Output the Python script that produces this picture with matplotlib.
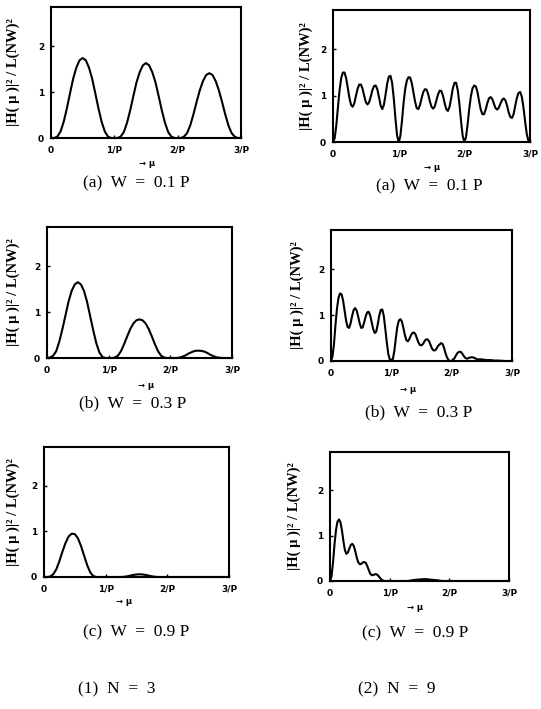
import numpy as np
import matplotlib
matplotlib.use("Agg")
import matplotlib.pyplot as plt

# ---------------- data ----------------
# N = 3 curves, sampled every 0.05/P from 0 to 3/P (61 points)
MU3 = np.round(np.arange(61) * 0.05, 3)
N3_W01 = [0, 0, 0.03, 0.14, 0.35, 0.64, 0.97, 1.29, 1.53, 1.69, 1.74, 1.69, 1.53, 1.29, 0.97, 0.64, 0.35, 0.14, 0.03, 0, 0,
          0, 0.03, 0.13, 0.33, 0.60, 0.91, 1.21, 1.43, 1.58, 1.63, 1.58, 1.43, 1.21, 0.91, 0.60, 0.33, 0.13, 0.03, 0, 0,
          0, 0.03, 0.11, 0.28, 0.52, 0.79, 1.04, 1.24, 1.37, 1.41, 1.37, 1.24, 1.04, 0.79, 0.52, 0.28, 0.11, 0.03, 0, 0]
N3_W03 = [0, 0.01, 0.05, 0.15, 0.36, 0.63, 0.93, 1.23, 1.46, 1.60, 1.65, 1.60, 1.46, 1.22, 0.91, 0.60, 0.32, 0.12, 0.02, 0, 0,
          0, 0.01, 0.05, 0.15, 0.30, 0.47, 0.63, 0.75, 0.82, 0.84, 0.82, 0.75, 0.63, 0.47, 0.30, 0.15, 0.05, 0.01, 0, 0,
          0, 0, 0.01, 0.03, 0.06, 0.10, 0.13, 0.155, 0.16, 0.155, 0.14, 0.11, 0.07, 0.04, 0.015, 0.005, 0, 0, 0, 0]
N3_W09 = [0, 0, 0.01, 0.06, 0.17, 0.35, 0.56, 0.75, 0.89, 0.95, 0.94, 0.85, 0.68, 0.47, 0.26, 0.10, 0.02, 0, 0, 0, 0,
          0, 0, 0, 0, 0, 0.005, 0.015, 0.03, 0.045, 0.055, 0.06, 0.055, 0.045, 0.03, 0.015, 0.005, 0, 0, 0, 0,
          0, 0, 0, 0, 0, 0, 0, 0, 0, 0, 0, 0, 0, 0, 0, 0, 0, 0, 0, 0]

# N = 9 curves, sampled every 0.025/P (value at 0, then 40 values per period)
MU9 = np.round(np.arange(121) * 0.025, 4)
N9_W01_P1 = [0.08, 0.35, 0.75, 1.12, 1.38, 1.50, 1.50, 1.38, 1.17, 0.95, 0.80, 0.76, 0.84, 1.00, 1.15, 1.24, 1.24, 1.15, 1.00, 0.86,
             0.81, 0.86, 0.98, 1.12, 1.21, 1.22, 1.14, 0.97, 0.79, 0.71, 0.80, 1.02, 1.26, 1.41, 1.43, 1.28, 0.95, 0.52, 0.15, 0.00]
N9_W01_P2 = [0.12, 0.45, 0.85, 1.15, 1.33, 1.40, 1.39, 1.27, 1.07, 0.87, 0.73, 0.71, 0.80, 0.95, 1.08, 1.14, 1.13, 1.03, 0.88, 0.76,
             0.72, 0.77, 0.90, 1.03, 1.11, 1.10, 1.00, 0.84, 0.71, 0.67, 0.76, 0.95, 1.16, 1.28, 1.28, 1.12, 0.82, 0.45, 0.13, 0.00]
N9_W01_P3 = [0.10, 0.38, 0.72, 0.99, 1.16, 1.22, 1.20, 1.08, 0.88, 0.70, 0.60, 0.60, 0.70, 0.84, 0.94, 0.97, 0.93, 0.83, 0.73, 0.70,
             0.74, 0.83, 0.91, 0.94, 0.90, 0.79, 0.64, 0.54, 0.52, 0.60, 0.78, 0.95, 1.06, 1.08, 0.98, 0.75, 0.45, 0.18, 0.03, 0.00]
N9_W03_P1 = [0.10, 0.38, 0.80, 1.15, 1.38, 1.47, 1.45, 1.32, 1.10, 0.88, 0.74, 0.72, 0.82, 0.98, 1.11, 1.15, 1.10, 0.97, 0.82, 0.72,
             0.73, 0.84, 0.97, 1.06, 1.07, 0.99, 0.84, 0.69, 0.61, 0.64, 0.80, 0.99, 1.11, 1.12, 0.98, 0.70, 0.40, 0.15, 0.03, 0.00]
N9_W03_P2 = [0.04, 0.22, 0.50, 0.75, 0.88, 0.91, 0.86, 0.72, 0.56, 0.45, 0.43, 0.48, 0.56, 0.61, 0.62, 0.58, 0.49, 0.40, 0.35, 0.34,
             0.37, 0.43, 0.47, 0.47, 0.43, 0.35, 0.27, 0.23, 0.23, 0.27, 0.33, 0.36, 0.39, 0.37, 0.28, 0.16, 0.07, 0.02, 0.00, 0.00]
N9_W03_P3 = [0.02, 0.07, 0.13, 0.18, 0.20, 0.20, 0.16, 0.11, 0.07, 0.05, 0.06, 0.075, 0.08, 0.08, 0.07, 0.05, 0.04, 0.035, 0.035, 0.035,
             0.03, 0.025, 0.02, 0.02, 0.02, 0.02, 0.015, 0.01, 0.01, 0.01, 0.01, 0.005, 0.005, 0.005, 0, 0, 0, 0, 0, 0]
N9_W09_P1 = [0.10, 0.40, 0.80, 1.12, 1.31, 1.36, 1.30, 1.12, 0.88, 0.68, 0.60, 0.63, 0.72, 0.80, 0.82, 0.77, 0.65, 0.51, 0.41, 0.37,
             0.38, 0.41, 0.42, 0.40, 0.33, 0.24, 0.16, 0.13, 0.13, 0.15, 0.15, 0.13, 0.09, 0.05, 0.02, 0.005, 0, 0, 0, 0]
N9_W09_P2 = [0, 0, 0, 0, 0, 0, 0, 0, 0, 0, 0, 0, 0.005, 0.01, 0.015, 0.02, 0.025, 0.03, 0.03, 0.035,
             0.035, 0.04, 0.04, 0.04, 0.04, 0.035, 0.03, 0.03, 0.025, 0.02, 0.02, 0.015, 0.01, 0.005, 0, 0, 0, 0, 0, 0]
N9_W09_P3 = [0, 0, 0, 0, 0, 0, 0, 0, 0, 0, 0, 0, 0, 0, 0, 0, 0, 0, 0, 0,
             0, 0, 0, 0, 0, 0, 0, 0, 0, 0, 0, 0, 0, 0, 0, 0, 0, 0, 0, 0]

N9_W01 = [0.0] + N9_W01_P1 + N9_W01_P2 + N9_W01_P3
N9_W03 = [0.0] + N9_W03_P1 + N9_W03_P2 + N9_W03_P3
N9_W09 = [0.0] + N9_W09_P1 + N9_W09_P2 + N9_W09_P3

X_TICKS = [0, 1, 2, 3]
X_TICKLABELS = ["0", "1/P", "2/P", "3/P"]
Y_TICKS = [0, 1, 2]
CAPTIONS_LEFT = ["(a)  W  =  0.1 P", "(b)  W  =  0.3 P", "(c)  W  =  0.9 P"]
CAPTIONS_RIGHT = ["(a)  W  =  0.1 P", "(b)  W  =  0.3 P", "(c)  W  =  0.9 P"]
COLUMN_TITLES = ["(1)  N  =  3", "(2)  N  =  9"]
YLABEL = "|H( μ )|² / L(NW)²"
XLABEL = "→ μ"

# ---------------- layout (pixels) ----------------
W, H = 541, 709
fig = plt.figure(figsize=(W / 100, H / 100), dpi=100)
fig.patch.set_facecolor("white")

SERIF = ["Liberation Serif", "DejaVu Serif"]

# (left, right, top, bottom, ylabel_x, caption_x, caption_y, xlabel_x, xlabel_y)
panels = [
    (51, 241, 7, 138, 13, 136, 183, 147, 164, MU3, N3_W01, CAPTIONS_LEFT[0]),
    (333, 530, 10, 142, 306, 429, 186, 432, 167, MU9, N9_W01, CAPTIONS_RIGHT[0]),
    (47, 232, 227, 358, 13, 133, 403, 146, 385, MU3, N3_W03, CAPTIONS_LEFT[1]),
    (331, 512, 230, 361, 297, 419, 412, 408, 389, MU9, N9_W03, CAPTIONS_RIGHT[1]),
    (44, 229, 447, 577, 13, 136, 632, 124, 602, MU3, N3_W09, CAPTIONS_LEFT[2]),
    (330, 509, 452, 581, 294, 415, 633, 415, 607, MU9, N9_W09, CAPTIONS_RIGHT[2]),
]

for (l, r, t, b, ylx, cx, cy, xlx, xly, mu, vals, cap) in panels:
    ax = fig.add_axes([l / W, 1 - b / H, (r - l) / W, (b - t) / H])
    ax.plot(mu, vals, color="black", lw=1.5, solid_joinstyle="round", clip_on=False, zorder=3)
    ax.set_xlim(0, 3)
    ax.set_ylim(0, 2.85)
    ax.set_xticks(X_TICKS)
    ax.set_xticklabels(X_TICKLABELS)
    ax.set_yticks(Y_TICKS)
    ax.tick_params(direction="in", length=2.5, width=1.0, labelsize=6.5)
    ax.tick_params(axis="x", pad=5.5)
    ax.tick_params(axis="y", pad=5)
    for lab in ax.get_xticklabels() + ax.get_yticklabels():
        lab.set_fontweight("bold")
        lab.set_family("DejaVu Sans")
    for sp in ax.spines.values():
        sp.set_linewidth(1.5)
    fig.text(ylx / W, 1 - ((t + b) / 2) / H, YLABEL, rotation=90, ha="center", va="center",
             fontsize=10.5, fontweight="bold", family=SERIF)
    fig.text(xlx / W, 1 - xly / H, XLABEL, ha="center", va="center", fontsize=6,
             fontweight="bold", family="DejaVu Sans")
    fig.text(cx / W, 1 - cy / H, cap, ha="center", va="center", fontsize=12.5, family=SERIF)

fig.text(117 / W, 1 - 689 / H, COLUMN_TITLES[0], ha="center", va="center", fontsize=12.5, family=SERIF)
fig.text(397 / W, 1 - 689 / H, COLUMN_TITLES[1], ha="center", va="center", fontsize=12.5, family=SERIF)

fig.savefig("out.png", dpi=100, facecolor="white")
